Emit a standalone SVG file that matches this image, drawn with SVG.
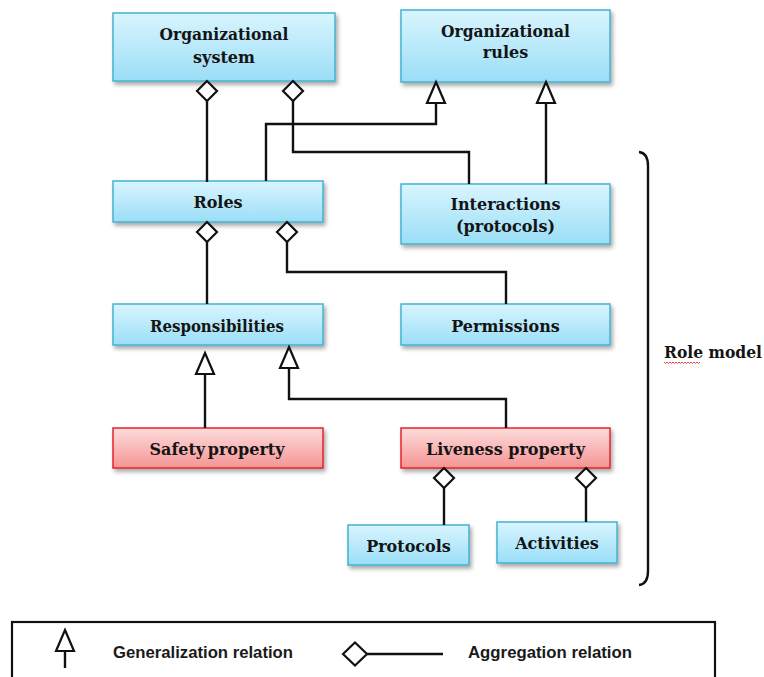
<svg xmlns="http://www.w3.org/2000/svg" xmlns:xlink="http://www.w3.org/1999/xlink" width="764" height="677" viewBox="0 0 764 677">
<defs>
<linearGradient id="gBlue" x1="0" y1="0" x2="0" y2="1">
<stop offset="0" stop-color="#d9f5fe"/>
<stop offset="1" stop-color="#9adef7"/>
</linearGradient>
<linearGradient id="gRed" x1="0" y1="0" x2="0" y2="1">
<stop offset="0" stop-color="#fddcdc"/>
<stop offset="1" stop-color="#f59494"/>
</linearGradient>
<filter id="sh" x="-10%" y="-20%" width="125%" height="160%">
<feDropShadow dx="2" dy="3" stdDeviation="2" flood-color="#000" flood-opacity="0.35"/>
</filter>
<path id="dia" d="M0,0 L10,10 L0,20 L-10,10 Z"/>
<path id="tri" d="M0,0 L9,21 L-9,21 Z"/>
</defs>
<style>
.blue{fill:url(#gBlue);stroke:#44b2d0;stroke-width:1.5;filter:url(#sh)}
.red{fill:url(#gRed);stroke:#e5252b;stroke-width:1.5;filter:url(#sh)}
.lbl{font-family:"DejaVu Serif","Liberation Serif",serif;font-weight:bold;font-size:16px;fill:#141414;text-anchor:middle}
.ln{fill:none;stroke:#111;stroke-width:2.4}
.hd{fill:#fff;stroke:#111;stroke-width:2.2;stroke-linejoin:miter}
.leg{font-family:"Liberation Sans",Arial,sans-serif;font-weight:bold;font-size:17px;fill:#1a1a1a}
</style>
<rect width="764" height="677" fill="#fff"/>

<g id="org-system"><rect class="blue" x="113" y="13" width="222" height="68"/><text class="lbl" x="224" y="40" textLength="129" lengthAdjust="spacingAndGlyphs">Organizational</text><text class="lbl" x="224" y="63">system</text></g>
<g id="org-rules"><rect class="blue" x="401" y="10" width="209" height="72"/><text class="lbl" x="505.5" y="36.5" textLength="129" lengthAdjust="spacingAndGlyphs">Organizational</text><text class="lbl" x="505.5" y="57.5">rules</text></g>
<g id="roles"><rect class="blue" x="113" y="181" width="210" height="41"/><text class="lbl" x="218" y="207.5">Roles</text></g>
<g id="interactions"><rect class="blue" x="401" y="184" width="209" height="60"/><text class="lbl" x="505.5" y="209.5">Interactions</text><text class="lbl" x="505.5" y="232">(protocols)</text></g>
<g id="responsibilities"><rect class="blue" x="113" y="304" width="210" height="41"/><text class="lbl" x="217" y="331.5" textLength="134" lengthAdjust="spacingAndGlyphs">Responsibilities</text></g>
<g id="permissions"><rect class="blue" x="401" y="304" width="209" height="41"/><text class="lbl" x="505.5" y="331.5">Permissions</text></g>
<g id="safety"><rect class="red" x="113" y="428" width="210" height="40"/><text class="lbl" x="217" y="454.5" word-spacing="-3">Safety property</text></g>
<g id="liveness"><rect class="red" x="401" y="428" width="209" height="40"/><text class="lbl" x="505.5" y="454.5">Liveness property</text></g>
<g id="protocols"><rect class="blue" x="348" y="525" width="121" height="40"/><text class="lbl" x="408.5" y="551.5">Protocols</text></g>
<g id="activities"><rect class="blue" x="497" y="522" width="120" height="41"/><text class="lbl" x="557" y="548.5">Activities</text></g>

<g id="connectors">
<path class="ln" d="M207 100 V182"/>
<use href="#dia" xlink:href="#dia" class="hd" x="207" y="81"/>
<path class="ln" d="M293 100 V152 H469 V184"/>
<use href="#dia" xlink:href="#dia" class="hd" x="293" y="81"/>
<path class="ln" d="M266 181 V124 H436 V103"/>
<use href="#tri" xlink:href="#tri" class="hd" x="436" y="82"/>
<path class="ln" d="M546 184 V103"/>
<use href="#tri" xlink:href="#tri" class="hd" x="546" y="82"/>
<path class="ln" d="M207 241 V304"/>
<use href="#dia" xlink:href="#dia" class="hd" x="207" y="222"/>
<path class="ln" d="M287 241 V272 H506 V304"/>
<use href="#dia" xlink:href="#dia" class="hd" x="287" y="222"/>
<path class="ln" d="M205 374 V428"/>
<use href="#tri" xlink:href="#tri" class="hd" x="205" y="353"/>
<path class="ln" d="M289 368 V399 H506 V428"/>
<use href="#tri" xlink:href="#tri" class="hd" x="289" y="347"/>
<path class="ln" d="M444 487 V525"/>
<use href="#dia" xlink:href="#dia" class="hd" x="444" y="468"/>
<path class="ln" d="M586 487 V522"/>
<use href="#dia" xlink:href="#dia" class="hd" x="586" y="468"/>
</g>

<g id="role-model">
<path d="M639 152 Q648 153 648 166 L648 571 Q648 584 639 585" fill="none" stroke="#111" stroke-width="2.4"/>
<text x="664" y="357.5" font-family="DejaVu Serif, Liberation Serif, serif" font-weight="bold" font-size="16" fill="#141414" textLength="98" lengthAdjust="spacingAndGlyphs">Role model</text>
<path d="M664 362 l1.5 1.5 l1.5 -1.5 l1.5 1.5 l1.5 -1.5 l1.5 1.5 l1.5 -1.5 l1.5 1.5 l1.5 -1.5 l1.5 1.5 l1.5 -1.5 l1.5 1.5 l1.5 -1.5 l1.5 1.5 l1.5 -1.5 l1.5 1.5 l1.5 -1.5 l1.5 1.5 l1.5 -1.5 l1.5 1.5 l1.5 -1.5 l1.5 1.5 l1.5 -1.5 l1.5 1.5 l1.5 -1.5" fill="none" stroke="#e03030" stroke-width="0.9"/>
</g>

<g id="legend">
<rect x="12" y="622" width="703" height="70" fill="none" stroke="#111" stroke-width="2.2"/>
<path class="ln" d="M65 651 V668"/>
<use href="#tri" xlink:href="#tri" class="hd" x="65" y="630"/>
<text class="leg" x="113" y="658" textLength="180" lengthAdjust="spacingAndGlyphs">Generalization relation</text>
<path class="ln" d="M366 654 H443"/>
<path class="hd" d="M343 654 L355 642.5 L367 654 L355 665.5 Z"/>
<text class="leg" x="468" y="658" textLength="164" lengthAdjust="spacingAndGlyphs">Aggregation relation</text>
</g>
</svg>
